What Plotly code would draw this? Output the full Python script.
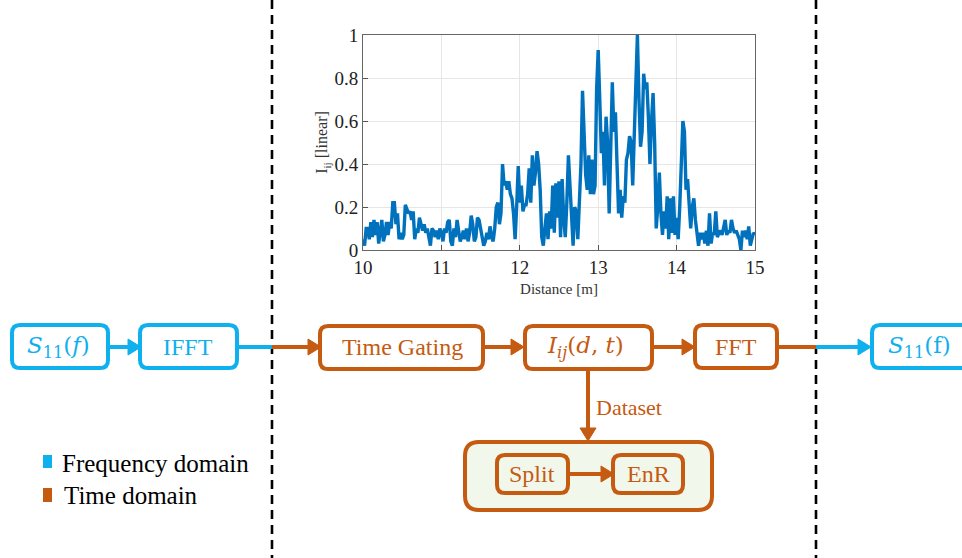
import plotly.graph_objects as go

# ---------------- data (inset signal) ----------------
distance_m = [
    10.00, 10.02, 10.04, 10.06, 10.08, 10.10, 10.12, 10.14, 10.16, 10.18,
    10.20, 10.22, 10.24, 10.26, 10.28, 10.30, 10.32, 10.34, 10.36, 10.38,
    10.40, 10.42, 10.44, 10.46, 10.48, 10.50, 10.52, 10.54, 10.56, 10.58,
    10.60, 10.62, 10.64, 10.66, 10.68, 10.70, 10.72, 10.74, 10.76, 10.78,
    10.80, 10.82, 10.84, 10.86, 10.88, 10.90, 10.92, 10.94, 10.96, 10.98,
    11.00, 11.02, 11.04, 11.06, 11.08, 11.10, 11.12, 11.14, 11.16, 11.18,
    11.20, 11.22, 11.24, 11.26, 11.28, 11.30, 11.32, 11.34, 11.36, 11.38,
    11.40, 11.42, 11.44, 11.46, 11.48, 11.50, 11.52, 11.54, 11.56, 11.58,
    11.60, 11.62, 11.64, 11.66, 11.68, 11.70, 11.72, 11.74, 11.76, 11.78,
    11.80, 11.82, 11.84, 11.86, 11.88, 11.90, 11.92, 11.94, 11.96, 11.98,
    12.00, 12.02, 12.04, 12.06, 12.08, 12.10, 12.12, 12.14, 12.16, 12.18,
    12.20, 12.22, 12.24, 12.26, 12.28, 12.30, 12.32, 12.34, 12.36, 12.38,
    12.40, 12.42, 12.44, 12.46, 12.48, 12.50, 12.52, 12.54, 12.56, 12.58,
    12.60, 12.62, 12.64, 12.66, 12.68, 12.70, 12.72, 12.74, 12.76, 12.78,
    12.80, 12.82, 12.84, 12.86, 12.88, 12.90, 12.92, 12.94, 12.96, 12.98,
    13.00, 13.02, 13.04, 13.06, 13.08, 13.10, 13.12, 13.14, 13.16, 13.18,
    13.20, 13.22, 13.24, 13.26, 13.28, 13.30, 13.32, 13.34, 13.36, 13.38,
    13.40, 13.42, 13.44, 13.46, 13.48, 13.50, 13.52, 13.54, 13.56, 13.58,
    13.60, 13.62, 13.64, 13.66, 13.68, 13.70, 13.72, 13.74, 13.76, 13.78,
    13.80, 13.82, 13.84, 13.86, 13.88, 13.90, 13.92, 13.94, 13.96, 13.98,
    14.00, 14.02, 14.04, 14.06, 14.08, 14.10, 14.12, 14.14, 14.16, 14.18,
    14.20, 14.22, 14.24, 14.26, 14.28, 14.30, 14.32, 14.34, 14.36, 14.38,
    14.40, 14.42, 14.44, 14.46, 14.48, 14.50, 14.52, 14.54, 14.56, 14.58,
    14.60, 14.62, 14.64, 14.66, 14.68, 14.70, 14.72, 14.74, 14.76, 14.78,
    14.80, 14.82, 14.84, 14.86, 14.88, 14.90, 14.92, 14.94, 14.96, 14.98,
    15.00,
]
intensity_linear = [
    0.05, 0.02, 0.10, 0.10, 0.05, 0.13, 0.06, 0.14, 0.07, 0.13,
    0.03, 0.10, 0.14, 0.04, 0.07, 0.13, 0.07, 0.13, 0.10, 0.22,
    0.22, 0.12, 0.17, 0.05, 0.08, 0.05, 0.07, 0.21, 0.19, 0.17,
    0.18, 0.14, 0.18, 0.05, 0.10, 0.08, 0.15, 0.12, 0.09, 0.12,
    0.08, 0.10, 0.06, 0.02, 0.10, 0.09, 0.06, 0.09, 0.05, 0.10,
    0.08, 0.04, 0.10, 0.08, 0.13, 0.14, 0.04, 0.02, 0.10, 0.06,
    0.14, 0.10, 0.04, 0.06, 0.09, 0.05, 0.10, 0.04, 0.08, 0.16,
    0.12, 0.04, 0.06, 0.15, 0.14, 0.10, 0.05, 0.02, 0.04, 0.08,
    0.05, 0.11, 0.06, 0.04, 0.10, 0.20, 0.22, 0.12, 0.17, 0.40,
    0.30, 0.32, 0.28, 0.32, 0.26, 0.24, 0.17, 0.05, 0.20, 0.39,
    0.22, 0.30, 0.18, 0.21, 0.21, 0.26, 0.38, 0.22, 0.44, 0.30,
    0.36, 0.46, 0.40, 0.28, 0.06, 0.02, 0.10, 0.17, 0.05, 0.18,
    0.10, 0.30, 0.08, 0.31, 0.15, 0.32, 0.06, 0.33, 0.15, 0.06,
    0.22, 0.44, 0.30, 0.12, 0.02, 0.20, 0.18, 0.05, 0.25, 0.40,
    0.74, 0.55, 0.35, 0.28, 0.44, 0.26, 0.42, 0.26, 0.30, 0.75,
    0.93, 0.70, 0.45, 0.55, 0.30, 0.62, 0.50, 0.17, 0.50, 0.78,
    0.55, 0.64, 0.40, 0.17, 0.28, 0.15, 0.25, 0.22, 0.42, 0.45,
    0.53, 0.50, 0.30, 0.50, 0.70, 1.00, 0.70, 0.48, 0.55, 0.82,
    0.75, 0.78, 0.62, 0.40, 0.60, 0.73, 0.50, 0.10, 0.20, 0.36,
    0.17, 0.07, 0.18, 0.10, 0.25, 0.05, 0.24, 0.08, 0.25, 0.07,
    0.15, 0.05, 0.20, 0.45, 0.60, 0.55, 0.28, 0.33, 0.20, 0.10,
    0.20, 0.24, 0.14, 0.08, 0.02, 0.08, 0.05, 0.08, 0.03, 0.09,
    0.02, 0.17, 0.03, 0.08, 0.07, 0.18, 0.06, 0.08, 0.09, 0.07,
    0.10, 0.14, 0.07, 0.09, 0.08, 0.14, 0.10, 0.08, 0.09, 0.07,
    0.05, 0.00, 0.09, 0.06, 0.09, 0.05, 0.11, 0.02, 0.06, 0.08,
    0.07,
]
x_ticks = [10, 11, 12, 13, 14, 15]
y_ticks = [0, 0.2, 0.4, 0.6, 0.8, 1]
y_tick_text = ["0", "0.2", "0.4", "0.6", "0.8", "1"]

# ---------------- diagram text ----------------
legend_labels = ["Frequency domain", "Time domain"]

W, H = 962, 558
BLUE = "#0FB0EE"
ORANGE = "#C55A11"
GREEN_FILL = "#F2F7EC"
SERIF = "Liberation Serif, Times New Roman, serif"
MATH = "DejaVu Serif, serif"

fig = go.Figure()

# inset plot
fig.add_trace(go.Scatter(
    x=distance_m, y=intensity_linear, mode="lines",
    line=dict(color="#0072BD", width=3.4), xaxis="x", yaxis="y",
    showlegend=False, hoverinfo="skip"))
# dummy for overlay axes
fig.add_trace(go.Scatter(x=[], y=[], xaxis="x2", yaxis="y2", showlegend=False))

shapes = []
annotations = []


def rrect(x0, y0, x1, y1, r):
    return (f"M{x0+r},{y0} L{x1-r},{y0} Q{x1},{y0} {x1},{y0+r} "
            f"L{x1},{y1-r} Q{x1},{y1} {x1-r},{y1} L{x0+r},{y1} "
            f"Q{x0},{y1} {x0},{y1-r} L{x0},{y0+r} Q{x0},{y0} {x0+r},{y0} Z")


def box(x0, y0, x1, y1, color, r=8, fill="white", w=4):
    shapes.append(dict(type="path", xref="x2", yref="y2", path=rrect(x0, y0, x1, y1, r),
                       line=dict(color=color, width=w), fillcolor=fill, layer="above"))


def seg(x0, y0, x1, y1, color, w=4):
    shapes.append(dict(type="line", xref="x2", yref="y2", x0=x0, y0=y0, x1=x1, y1=y1,
                       line=dict(color=color, width=w), layer="above"))


def head_right(tx, cy, color, L=13, hw=8):
    shapes.append(dict(type="path", xref="x2", yref="y2",
                       path=f"M{tx-L},{cy-hw} L{tx},{cy} L{tx-L},{cy+hw} Z",
                       line=dict(color=color, width=1), fillcolor=color, layer="above"))


def head_down(cx, ty, color, L=13, hw=8):
    shapes.append(dict(type="path", xref="x2", yref="y2",
                       path=f"M{cx-hw},{ty-L} L{cx},{ty} L{cx+hw},{ty-L} Z",
                       line=dict(color=color, width=1), fillcolor=color, layer="above"))


def text(x, y, s, color, size=24, xanchor="center", family=SERIF):
    annotations.append(dict(xref="x2", yref="y2", x=x, y=y, text=s, showarrow=False,
                            xanchor=xanchor, yanchor="middle",
                            font=dict(family=family, size=size, color=color)))


cy = 347
# dashed dividers
for xd in (272, 816):
    shapes.append(dict(type="line", xref="x2", yref="y2", x0=xd, x1=xd, y0=0, y1=H,
                       line=dict(color="black", width=2.6, dash="9px,6px"), layer="above"))

# boxes
box(12, 325, 108, 368, BLUE)
box(140, 325, 237, 368, BLUE)
box(320, 326, 483, 369, ORANGE)
box(525, 326, 652, 369, ORANGE)
box(695, 325, 777, 368, ORANGE)
box(872, 325, 980, 368, BLUE)
box(465, 442, 712, 510, ORANGE, r=14, fill=GREEN_FILL)
box(497, 455, 568, 493, ORANGE, fill=GREEN_FILL)
box(613, 455, 683, 493, ORANGE, fill=GREEN_FILL)

# connectors
seg(110, cy, 128, cy, BLUE); head_right(141, cy, BLUE)
seg(239, cy, 272, cy, BLUE)
seg(272, cy, 308, cy, ORANGE); head_right(321, cy, ORANGE)
seg(485, cy, 511, cy, ORANGE); head_right(524, cy, ORANGE)
seg(654, cy, 682, cy, ORANGE); head_right(695, cy, ORANGE)
seg(779, cy, 816, cy, ORANGE)
seg(816, cy, 858, cy, BLUE); head_right(871, cy, BLUE)
seg(588, 371, 588, 428, ORANGE); head_down(588, 441, ORANGE)
seg(570, 474, 601, 474, ORANGE); head_right(614, 474, ORANGE)

# legend squares
shapes.append(dict(type="rect", xref="x2", yref="y2", x0=43, x1=52, y0=455, y1=468,
                   fillcolor=BLUE, line=dict(width=0), layer="above"))
shapes.append(dict(type="rect", xref="x2", yref="y2", x0=43, x1=52, y0=488, y1=502,
                   fillcolor=ORANGE, line=dict(width=0), layer="above"))

# texts
text(58, 347, "<i>S</i><sub>11</sub>(<i>f</i>)", BLUE, size=23, family=MATH)
text(188, 347, "IFFT", BLUE)
text(402, 347, "Time Gating", ORANGE)
text(585, 347, "<i>I</i><sub><i>ij</i></sub>(<i>d</i>, <i>t</i>)", ORANGE, size=23, family=MATH)
text(736, 347, "FFT", ORANGE)
text(919, 347, "<i>S</i><sub>11</sub>(f)", BLUE, size=23, family=MATH)
text(594, 407, "Dataset", ORANGE, size=22, xanchor="left")
text(532, 474, "Split", ORANGE)
text(648, 474, "EnR", ORANGE)
text(60, 463, legend_labels[0], "black", size=25, xanchor="left")
text(62, 495, legend_labels[1], "black", size=25, xanchor="left")

px0, px1, py0, py1 = 363, 755, 35, 250
fig.update_layout(
    width=W, height=H, margin=dict(l=0, r=0, t=0, b=0, pad=0, autoexpand=False),
    paper_bgcolor="white", plot_bgcolor="rgba(0,0,0,0)",
    shapes=shapes, annotations=annotations,
    xaxis=dict(domain=[px0 / W, px1 / W], anchor="y", range=[10, 15], automargin=False,
               tickvals=x_ticks, ticks="inside", ticklen=5, tickcolor="#555",
               showline=True, mirror=True, linecolor="#666", linewidth=1,
               showgrid=True, gridcolor="#E6E6E6", zeroline=False,
               tickfont=dict(family=SERIF, size=19, color="#222"),
               title=dict(text="Distance [m]", standoff=6,
                          font=dict(family=SERIF, size=15, color="#333"))),
    yaxis=dict(domain=[1 - py1 / H, 1 - py0 / H], anchor="x", range=[0, 1], automargin=False,
               tickvals=y_ticks, ticktext=y_tick_text, ticks="inside", ticklen=5,
               tickcolor="#555", showline=True, mirror=True, linecolor="#666",
               linewidth=1, showgrid=True, gridcolor="#E6E6E6", zeroline=False,
               tickfont=dict(family=SERIF, size=19, color="#222"),
               title=dict(text="I<sub>ij</sub> [linear]", standoff=2,
                          font=dict(family=SERIF, size=16, color="#333"))),
    xaxis2=dict(domain=[0, 1], range=[0, W], visible=False, anchor="y2", automargin=False),
    yaxis2=dict(domain=[0, 1], range=[H, 0], visible=False, anchor="x2", automargin=False),
)

fig.write_html("out.html", config={"displayModeBar": False},
               post_script="document.body.style.margin='0';")
